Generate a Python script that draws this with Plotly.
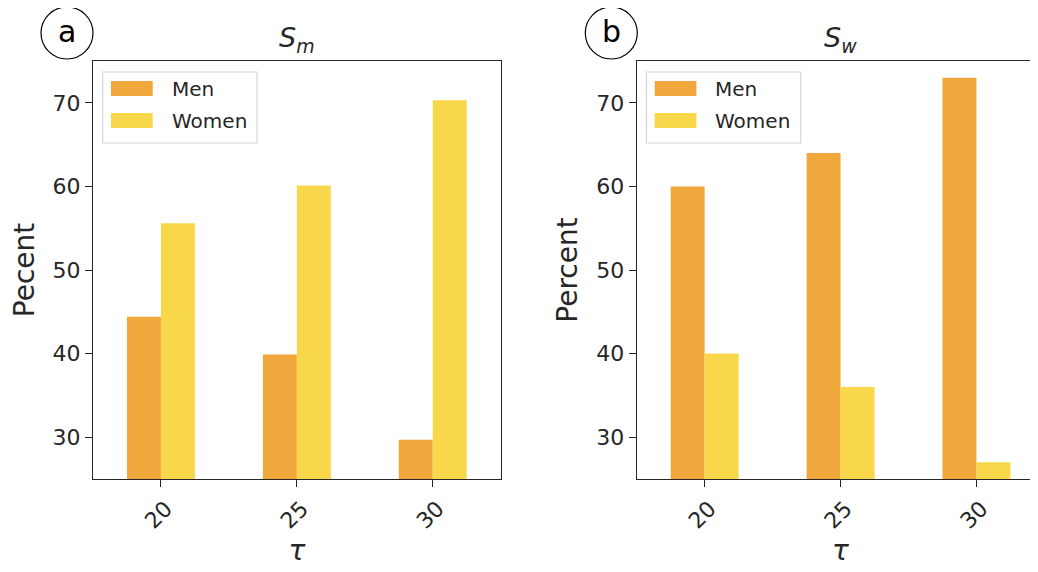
import plotly.graph_objects as go

W, H = 1038, 572
OFF = 8  # page body margin

taus = ["20", "25", "30"]
sm_men = [44.4, 39.9, 29.7]
sm_women = [55.6, 60.1, 70.3]
sw_men = [60.0, 64.0, 73.0]
sw_women = [40.0, 36.0, 27.0]

MEN_C = "#F0A83C"
WOMEN_C = "#F8D84A"
AX_C = "#262626"
TXT_C = "#262626"


def px(x):
    return (x - OFF) / W


def py(y):
    return 1 - (y - OFF) / H


fig = go.Figure()

fig.add_trace(go.Bar(x=taus, y=sm_men, name="Men", marker=dict(color=MEN_C, line=dict(width=0)),
                     xaxis="x", yaxis="y", showlegend=False))
fig.add_trace(go.Bar(x=taus, y=sm_women, name="Women", marker=dict(color=WOMEN_C, line=dict(width=0)),
                     xaxis="x", yaxis="y", showlegend=False))
fig.add_trace(go.Bar(x=taus, y=sw_men, name="Men", marker=dict(color=MEN_C, line=dict(width=0)),
                     xaxis="x2", yaxis="y2", showlegend=False))
fig.add_trace(go.Bar(x=taus, y=sw_women, name="Women", marker=dict(color=WOMEN_C, line=dict(width=0)),
                     xaxis="x2", yaxis="y2", showlegend=False))

ydom = [py(479), py(61)]
x1dom = [px(93), px(500.7)]
x2dom = [px(636.7), px(1044.4)]

common_x = dict(type="category", showgrid=False, zeroline=False, showline=True, linecolor=AX_C,
                linewidth=1.3, ticks="outside", ticklen=7, tickwidth=1.2, tickcolor=AX_C,
                tickangle=-45, tickfont=dict(family="DejaVu Sans", size=22, color=TXT_C),
                ticklabelshift=5, range=[-0.5, 2.5], mirror=True)
common_y = dict(range=[25, 75], showgrid=False, zeroline=False, showline=True, linecolor=AX_C,
                linewidth=1.3, ticks="outside", ticklen=7, tickwidth=1.2, tickcolor=AX_C,
                tickvals=[30, 40, 50, 60, 70], mirror=True,
                tickfont=dict(family="DejaVu Sans", size=22, color=TXT_C))

xa1 = dict(common_x); xa1.update(domain=x1dom, anchor="y",
                                   title=dict(text="<i>τ</i>", font=dict(family="DejaVu Sans", size=28, color=TXT_C), standoff=4))
xa2 = dict(common_x); xa2.update(domain=x2dom, anchor="y2",
                                   title=dict(text="<i>τ</i>", font=dict(family="DejaVu Sans", size=28, color=TXT_C), standoff=4))
ya1 = dict(common_y); ya1.update(domain=ydom, anchor="x",
                                   title=dict(text="Pecent", font=dict(family="DejaVu Sans", size=28, color=TXT_C), standoff=10))
ya2 = dict(common_y); ya2.update(domain=ydom, anchor="x2",
                                   title=dict(text="Percent", font=dict(family="DejaVu Sans", size=28, color=TXT_C), standoff=10))

shapes = []
annotations = []

# panel labels (circles)
for (cx, letter) in [(67, "a"), (611.3, "b")]:
    shapes.append(dict(type="circle", xref="paper", yref="paper",
                       x0=px(cx - 26), x1=px(cx + 26), y0=py(59), y1=py(7),
                       line=dict(color="black", width=1.2), fillcolor="rgba(0,0,0,0)"))
    annotations.append(dict(text=letter, x=px(cx), y=py(31), xref="paper", yref="paper",
                            showarrow=False, xanchor="center", yanchor="middle",
                            font=dict(family="DejaVu Sans", size=30, color="black")))

# titles
for (cx, sub) in [(296.9, "m"), (840.5, "w")]:
    annotations.append(dict(text="<i>S</i><sub><i>" + sub + "</i></sub>", x=px(cx), y=py(40),
                            xref="paper", yref="paper", showarrow=False,
                            xanchor="center", yanchor="middle",
                            font=dict(family="DejaVu Sans", size=27, color=TXT_C)))

# legends (drawn as boxes)
for ox in [93, 636.7]:
    bx0 = ox + 9.7
    shapes.append(dict(type="rect", xref="paper", yref="paper",
                       x0=px(bx0), x1=px(bx0 + 154.3), y0=py(143), y1=py(72),
                       line=dict(color="#D5D5D5", width=1.2), fillcolor="rgba(255,255,255,0.85)"))
    for (yc, name, col) in [(88.5, "Men", MEN_C), (120.5, "Women", WOMEN_C)]:
        shapes.append(dict(type="rect", xref="paper", yref="paper",
                           x0=px(bx0 + 8.3), x1=px(bx0 + 50), y0=py(yc + 7.5), y1=py(yc - 7.5),
                           line=dict(width=0), fillcolor=col))
        annotations.append(dict(text=name, x=px(bx0 + 67), y=py(yc), xref="paper", yref="paper",
                                showarrow=False, xanchor="left", yanchor="middle",
                                font=dict(family="DejaVu Sans", size=20, color=TXT_C)))

fig.update_layout(
    width=W, height=H,
    margin=dict(l=0, r=0, t=0, b=0),
    paper_bgcolor="white", plot_bgcolor="white",
    barmode="group", bargap=0.5, bargroupgap=0,
    xaxis=xa1, yaxis=ya1, xaxis2=xa2, yaxis2=ya2,
    shapes=shapes, annotations=annotations,
    showlegend=False,
)

fig.write_html("out.html")
